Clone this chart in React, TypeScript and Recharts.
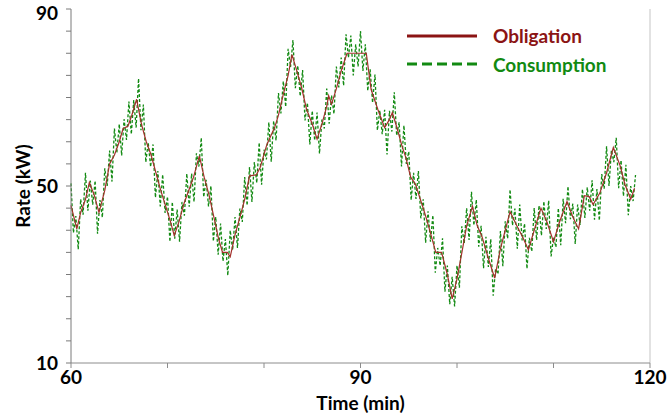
import { Label, Line, LineChart, ReferenceLine, XAxis, YAxis } from "recharts";

const CHART_WIDTH = 668;
const CHART_HEIGHT = 417;
const FONT = "Lato, 'Open Sans', sans-serif";
const OBLIGATION_COLOR = "#a3302c";
const OBLIGATION_LEGEND_COLOR = "#8b1414";
const CONSUMPTION_COLOR = "#128a12";

const X_TICKS = [60, 70, 80, 90, 100, 110, 120];
const X_LABELS = [60, 90, 120];
const Y_TICKS = [10, 15, 20, 25, 30, 35, 40, 45, 50, 55, 60, 65, 70, 75, 80, 85, 90];
const Y_LABELS = [10, 50, 90];

// obligation: stepped set point, read at its corners (minutes, kW)
const OBLIGATION_TIME = [
  60.0, 60.6, 61.0, 61.5, 61.9, 62.4, 62.9, 63.5, 64.0, 64.5, 65.0, 65.4, 65.9, 66.3, 66.8, 67.3, 67.8, 68.3,
  68.8, 69.3, 69.8, 70.3, 70.7, 71.2, 71.7, 72.2, 72.7, 73.3, 73.8, 74.3, 74.8, 75.3, 75.7, 76.2, 76.5, 77.0,
  77.6, 78.0, 78.5, 79.2, 79.6, 80.3, 81.1, 81.5, 82.0, 82.5, 82.9, 83.4, 83.9, 84.4, 85.0, 85.5, 86.0, 86.5,
  86.7, 87.0, 87.5, 88.0, 88.6, 90.6, 91.1, 91.8, 92.5, 93.0, 93.3, 93.8, 94.3, 94.7, 95.2, 95.7, 96.2, 96.7,
  97.2, 97.8, 98.4, 99.0, 99.5, 100.0, 100.5, 101.0, 101.6, 102.1, 102.6, 103.2, 103.9, 104.5, 105.0, 105.5,
  106.2, 106.8, 107.4, 108.0, 108.7, 109.3, 110.0, 110.6, 111.4, 112.0, 112.6, 113.2, 113.7, 114.1, 114.8,
  115.5, 116.2, 116.9, 117.4, 118.0, 118.4,
];
const OBLIGATION_RATE = [
  45.6, 40.3, 44, 47, 50.8, 48, 44, 49, 55, 57, 60, 63, 63.5, 66, 69.6, 64, 60, 57,
  53, 49, 45.5, 42, 38.8, 42, 46, 49, 52, 56.8, 52, 48, 43, 38, 35, 35, 34, 39,
  43.7, 47, 52.3, 52.5, 54.2, 59.4, 63.2, 66, 70.7, 75, 79.7, 76, 72.2, 67.4, 64, 60.6, 64, 68,
  70.4, 68.5, 72, 76, 80, 80, 71.8, 67.3, 63.2, 65, 66.6, 63, 59, 56.4, 52, 50.4, 47, 43.6,
  39.8, 35, 35, 30, 24.5, 29, 34.9, 41, 45.4, 41, 38.5, 34, 29.2, 35.8, 40, 44.2,
  41, 38.5, 35.6, 40, 45, 42, 37.4, 41.7, 46.5, 43, 40.3, 47.8, 47.6, 45.8, 48.4,
  53, 58.7, 54.6, 50.4, 47, 49.5,
];

// consumption: metered every quarter minute starting at minute 60
const CONSUMPTION_START = 60;
const CONSUMPTION_STEP = 0.25;
const CONSUMPTION_RATE = [
  50.6, 39.4, 43.2, 35.7, 47, 43.5, 53, 44.4, 51.2, 45.8, 51.2, 39.2, 46.8, 42.9, 54, 50,
  58, 51, 63, 57.5, 64, 56.9, 65.1, 60.4, 69.1, 61.7, 69.4, 63.2, 74.3, 62.6, 68.4, 55.4,
  59.8, 54.3, 59.4, 47.4, 53.4, 45.4, 52.6, 43.9, 47.6, 37.4, 46.4, 38.1, 44.7, 37.4, 46.4, 43.3,
  52.8, 45.3, 52.8, 46.4, 57.4, 54.4, 60.9, 47.5, 51.4, 45.4, 50, 37.5, 43, 34.5, 41.5, 33,
  38, 29.8, 40, 35.5, 43, 36, 44.9, 41.9, 52, 45.6, 54.3, 46.4, 55.4, 50.7, 59.8, 50.3,
  58.2, 56, 64.4, 55.5, 64.7, 60.3, 71, 66.4, 73.7, 67.9, 81, 76.9, 83, 72.1, 77.2, 70.3,
  76.2, 64.8, 68.8, 59.4, 67, 60.3, 66.6, 57.3, 65, 63, 72, 64.1, 70.5, 66.3, 77, 72.3,
  79, 72.7, 84.3, 79, 84, 75, 82, 77, 85, 76, 82, 71.5, 76.4, 68.8, 75.2, 62.6,
  67.1, 61.7, 67.2, 57.1, 67, 62.3, 71.2, 61.4, 64.4, 54.4, 63.7, 55, 57.8, 46.8, 53, 47.1,
  53.4, 42.7, 47, 37.2, 44.3, 37.4, 43.4, 30.4, 36, 32, 38.2, 26.1, 32, 23.3, 29.5, 22.8,
  32, 27, 40.9, 37, 45, 37.8, 48.7, 41.1, 46.9, 36.3, 41, 31.4, 38.5, 31.7, 38, 25.2,
  31.3, 30.1, 39.8, 31.9, 42, 38.1, 49.2, 41.1, 44.9, 35.8, 45.8, 37.7, 41.5, 31.3, 38.3, 35.2,
  45, 37.8, 45.6, 38.8, 46.5, 40.3, 46.7, 34.1, 38.4, 36.2, 45, 36.6, 47.1, 41.6, 49.9, 42.5,
  46, 36.9, 45.8, 41.2, 49.3, 42.8, 49.7, 44.4, 51.3, 42.4, 49.3, 42.2, 52.7, 49.4, 59, 50,
  58.1, 55.4, 60.9, 49.5, 55.8, 47.7, 54.8, 43.4, 50, 46.6, 52.5,
];

const obligationData = OBLIGATION_TIME.map((time, i) => ({ time, rate: OBLIGATION_RATE[i] }));
const consumptionData = CONSUMPTION_RATE.map((rate, i) => ({
  time: CONSUMPTION_START + i * CONSUMPTION_STEP,
  rate,
}));

const tickStyle = { fontSize: 19, fontWeight: 700, fill: "#000", fontFamily: FONT };

function YTick({ x, y, payload }: any) {
  if (!Y_LABELS.includes(payload.value)) return null;
  // the top label sits a little below its tick so it is not clipped
  const shift = payload.value === 90 ? 4 : 0;
  return (
    <text x={x} y={y + shift} dy="0.35em" textAnchor="end" {...tickStyle}>
      {payload.value}
    </text>
  );
}

function ChartLegend() {
  return (
    <svg width={220} height={60} style={{ position: "absolute", left: 407, top: 24, overflow: "visible" }}>
      <line x1={0} x2={70} y1={12} y2={12} stroke={OBLIGATION_LEGEND_COLOR} strokeWidth={3} />
      <text x={86} y={12} dy="0.35em" fill={OBLIGATION_LEGEND_COLOR} fontSize={19} fontWeight={700} fontFamily={FONT}>
        Obligation
      </text>
      <line x1={0} x2={70} y1={40} y2={40} stroke={CONSUMPTION_COLOR} strokeWidth={3} strokeDasharray="10 5" />
      <text x={86} y={41} dy="0.35em" fill={CONSUMPTION_COLOR} fontSize={19} fontWeight={700} fontFamily={FONT}>
        Consumption
      </text>
    </svg>
  );
}

export default function App() {
  return (
    <div style={{ position: "absolute", left: 0, top: 0, width: CHART_WIDTH, height: CHART_HEIGHT, background: "#fff" }}>
      <LineChart width={CHART_WIDTH} height={CHART_HEIGHT} margin={{ top: 9, right: 18, bottom: 0, left: 0 }}>
        <XAxis
          dataKey="time"
          type="number"
          domain={[60, 120]}
          ticks={X_TICKS}
          tickFormatter={(v: number) => (X_LABELS.includes(v) ? String(v) : "")}
          allowDuplicatedCategory={false}
          height={54}
          stroke="#8c8c8c"
          tickSize={5}
          tickMargin={3}
          tick={tickStyle}
          interval={0}
        >
          <Label
            value="Time (min)"
            position="insideBottom"
            offset={7}
            style={{ fontSize: 19, fontWeight: 700, fill: "#000", fontFamily: FONT }}
          />
        </XAxis>
        <YAxis
          type="number"
          domain={[10, 90]}
          ticks={Y_TICKS}
          width={71}
          stroke="#7a7a7a"
          tickSize={5}
          tickMargin={8}
          tick={<YTick />}
          interval={0}
        >
          <Label
            content={({ viewBox }: any) => {
              const cy = viewBox.y + viewBox.height / 2;
              return (
                <text
                  x={22}
                  y={cy}
                  transform={`rotate(-90 22 ${cy})`}
                  textAnchor="middle"
                  dominantBaseline="central"
                  fontSize={19}
                  fontWeight={700}
                  fontFamily={FONT}
                  fill="#000"
                >
                  Rate (kW)
                </text>
              );
            }}
          />
        </YAxis>
        <ReferenceLine x={120} stroke="#d9d9d9" strokeWidth={1.5} />
        <Line
          data={consumptionData}
          dataKey="rate"
          type="linear"
          stroke={CONSUMPTION_COLOR}
          strokeWidth={1.3}
          strokeDasharray="3 2"
          dot={false}
          isAnimationActive={false}
        />
        <Line
          data={obligationData}
          dataKey="rate"
          type="linear"
          stroke={OBLIGATION_COLOR}
          strokeWidth={1.2}
          dot={false}
          isAnimationActive={false}
        />
      </LineChart>
      <ChartLegend />
    </div>
  );
}
